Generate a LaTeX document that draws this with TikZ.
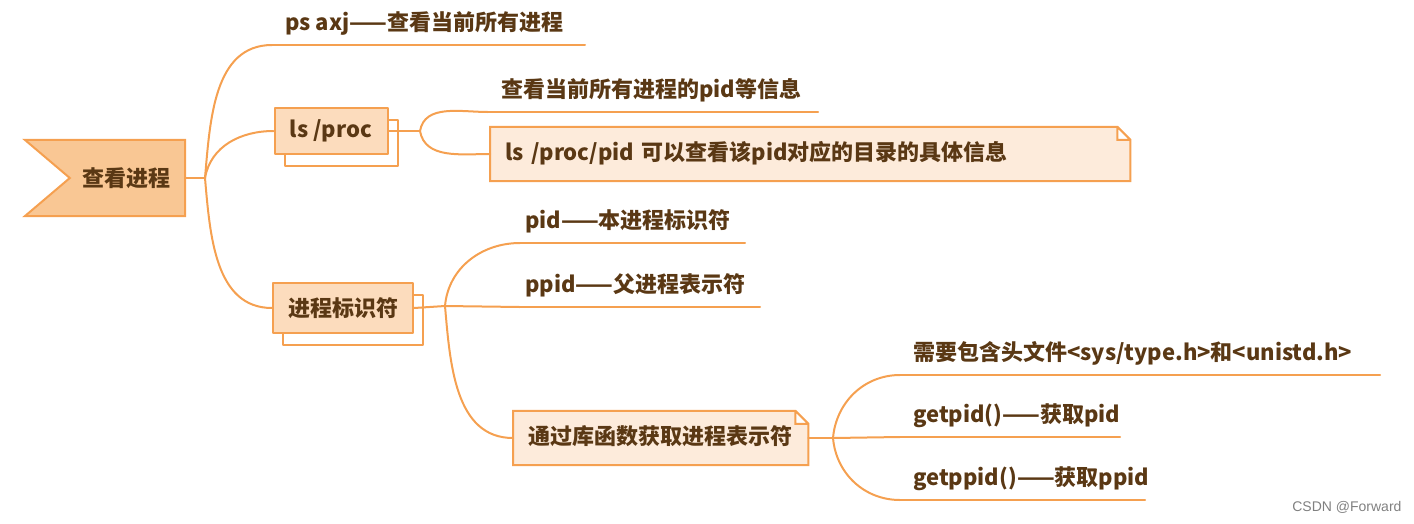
\documentclass[tikz,border=0pt]{standalone}
\usepackage{fontspec}
\newfontfamily\cjk{Noto Sans CJK SC}
\newfontfamily\wm{Liberation Sans}
\usetikzlibrary{backgrounds,shadows}
\definecolor{edgec}{HTML}{F5A050}
\definecolor{rootfill}{HTML}{F9C794}
\definecolor{boxfill}{HTML}{FCDCBD}
\definecolor{notefill}{HTML}{FDEBDB}
\definecolor{ink}{HTML}{5A3814}
\tikzset{
  branch/.style={draw=edgec, line width=2pt},
  leaf/.style={anchor=south west, inner xsep=13pt, inner ysep=0pt, minimum height=42pt, text height=17pt, text depth=4pt},
  uline/.style={append after command={(\tikzlastnode.south west) edge[branch] ++(#1,0)}},
  topicbox/.style={draw=edgec, line width=2pt, fill=boxfill, minimum height=46pt,
    general shadow={shadow xshift=10pt, shadow yshift=-12pt, draw=edgec, line width=2pt, fill=white}},
  notebox/.style={minimum height=54pt, inner xsep=15pt, text height=17pt, text depth=4pt},
}
\begin{document}
\begin{tikzpicture}[x=1pt, y=-1pt, font=\cjk\bfseries\fontsize{22}{26}\selectfont, text=ink, line join=round, line cap=round]
    \useasboundingbox (0,0) rectangle (1414,523);
    % root and first level
    \node[inner xsep=15pt, minimum width=160pt, minimum height=76pt, text width=130pt, align=right] (root) at (105,178) {查看进程};
    \node[leaf, uline=313] (psaxj) at (272,45) {ps axj——查看当前所有进程};
    \node[topicbox, minimum width=113pt] (lsproc) at (331,131) {ls /proc};
    \node[topicbox, minimum width=140pt, minimum height=50pt, general shadow={shadow yshift=-11pt}] (ident) at (343,308) {进程标识符};
    % ls /proc
    \node[leaf, uline=330] (pidinfo) at (488,112) {查看当前所有进程的pid等信息};
    \node[notebox, anchor=west, text width=610pt, align=left] (piddir) at (490,154) {ls /proc/pid 可以查看该pid对应的目录的具体信息};
    % identifiers
    \node[leaf, inner xsep=5pt, uline=225] (pidself) at (520,243) {pid——本进程标识符};
    \node[leaf, inner xsep=5pt, uline=240] (ppid) at (520,307) {ppid——父进程表示符};
    \node[notebox, anchor=west, minimum width=295pt] (libfunc) at (513,438) {通过库函数获取进程表示符};
    \node[leaf, uline=480] (header) at (900,375) {需要包含头文件<sys/type.h>和<unistd.h>};
    \node[leaf, uline=220] (getpid) at (900,437) {getpid()——获取pid};
    \node[leaf, uline=245] (getppid) at (900,500) {getppid()——获取ppid};
    \node[anchor=east, text=gray, font=\wm\fontsize{14}{16}\selectfont] (mark) at (1405,507) {CSDN @Forward};

    \begin{scope}[on background layer]
        \draw[branch, fill=rootfill] (root.north west) -- (root.north east) -- (root.south east) -- (root.south west) -- ([xshift=45pt]root.west) -- cycle;
        \foreach \n in {piddir,libfunc}
        \draw[branch, fill=notefill] (\n.south west) -- (\n.north west) -- ([xshift=-13pt]\n.north east) -- ([yshift=-13pt]\n.north east) -- (\n.south east) -- cycle
            ([xshift=-13pt]\n.north east) -- ([xshift=-13pt,yshift=-13pt]\n.north east) -- ([yshift=-13pt]\n.north east);
    \end{scope}

    \coordinate (fA) at (205,178);
    \coordinate (fB) at (420,131);
    \coordinate (fC) at (445,306);
    \coordinate (fD) at (833,438);
    \draw[branch] (root.east) -- (fA);
    \draw[branch] (fA) to[out=85,in=180] (psaxj.south west);
    \draw[branch] (fA) to[out=80,in=180] (lsproc.west);
    \draw[branch] (fA) to[out=-85,in=180] (ident.west);
    \draw[branch] (lsproc.east) -- (fB);
    \draw[branch] (fB) to[out=80,in=180] (pidinfo.south west);
    \draw[branch] (fB) to[out=-80,in=180] (piddir.west);
    \draw[branch] (ident.east) -- (fC);
    \draw[branch] (fC) to[out=85,in=180] (pidself.south west);
    \draw[branch] (fC) -- (ppid.south west);
    \draw[branch] (fC) to[out=-85,in=180] (libfunc.west);
    \draw[branch] (libfunc.east) -- (fD);
    \draw[branch] (fD) to[out=85,in=180] (header.south west);
    \draw[branch] (fD) -- (getpid.south west);
    \draw[branch] (fD) to[out=-85,in=180] (getppid.south west);
\end{tikzpicture}
\end{document}
